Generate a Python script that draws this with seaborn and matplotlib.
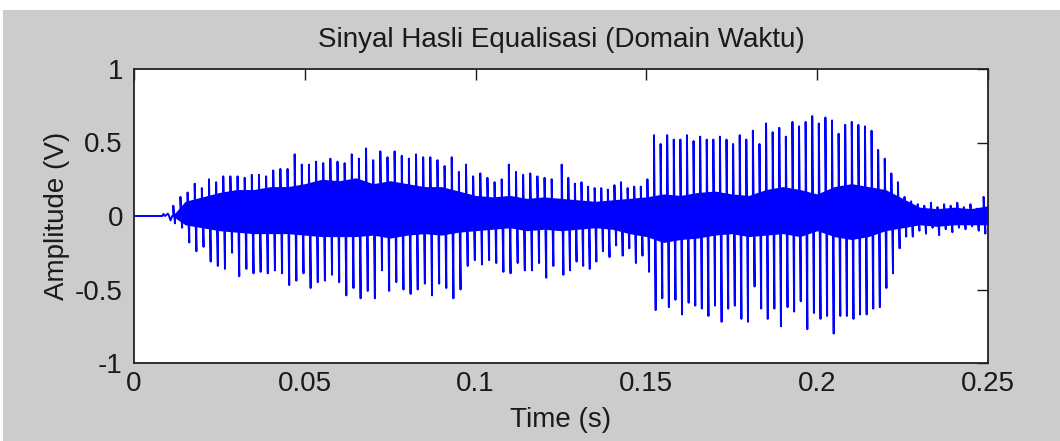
import numpy as np
import pandas as pd
import matplotlib
matplotlib.use("Agg")
import matplotlib.pyplot as plt
from matplotlib.patches import Rectangle
import seaborn as sns

sns.set_style("white")
plt.rcParams['font.family'] = ['Liberation Sans', 'DejaVu Sans']

# flat start with a few tiny wiggles before the voice starts
onset_t = [0.0, 0.0083, 0.0086, 0.0091, 0.0099, 0.0102, 0.0107, 0.0112]
onset_v = [0.0, 0.0, 0.014, 0.0, 0.016, 0.004, -0.03, 0.0]

# two voiced parts, pitch pulses
pulse_start = [0.0115, 0.1252]
pulse_period = [0.00209, 0.00193]

peak_hi_a = [0.07, 0.13, 0.16, 0.22, 0.19, 0.25, 0.23, 0.27, 0.27, 0.27,
             0.26, 0.28, 0.28, 0.27, 0.31, 0.32, 0.32, 0.42, 0.35, 0.35,
             0.37, 0.36, 0.39, 0.37, 0.36,
             0.42, 0.39, 0.46, 0.38, 0.44, 0.40, 0.44, 0.41, 0.39, 0.42,
             0.40, 0.40, 0.38, 0.34, 0.40, 0.30, 0.35, 0.27, 0.29, 0.26,
             0.23, 0.25, 0.35, 0.30, 0.28, 0.29, 0.27, 0.26, 0.25]
peak_lo_a = [-0.05, -0.08, -0.18, -0.24, -0.21, -0.31, -0.34, -0.36, -0.25, -0.41,
             -0.36, -0.39, -0.38, -0.39, -0.37, -0.39, -0.47, -0.44, -0.39, -0.49,
             -0.45, -0.44, -0.40, -0.45, -0.54,
             -0.49, -0.56, -0.51, -0.56, -0.37, -0.51, -0.45, -0.50, -0.53, -0.50,
             -0.46, -0.54, -0.46, -0.49, -0.56, -0.50, -0.34, -0.30, -0.33, -0.30,
             -0.32, -0.38, -0.39, -0.32, -0.37, -0.37, -0.32, -0.42, -0.34]

peak_hi_b = [0.35, 0.26, 0.22, 0.23, 0.20, 0.19, 0.19, 0.18, 0.21, 0.23,
             0.19, 0.20, 0.20, 0.25,
             0.55, 0.49, 0.55, 0.52, 0.52, 0.55, 0.51, 0.54, 0.52, 0.52,
             0.54, 0.52, 0.49, 0.55, 0.52, 0.58, 0.49, 0.63,
             0.57, 0.60, 0.54, 0.64, 0.61, 0.64, 0.68, 0.63, 0.67, 0.65,
             0.56, 0.62, 0.64, 0.62, 0.61, 0.58, 0.45, 0.39, 0.29, 0.23, 0.13,
             0.10, 0.08, 0.07, 0.09, 0.06, 0.08, 0.07, 0.09, 0.06, 0.08, 0.05, 0.13]
peak_lo_b = [-0.40, -0.37, -0.31, -0.34, -0.36, -0.31, -0.24, -0.28, -0.20, -0.27,
             -0.22, -0.32, -0.27, -0.38,
             -0.64, -0.56, -0.62, -0.57, -0.67, -0.59, -0.61, -0.63, -0.68, -0.61,
             -0.72, -0.63, -0.61, -0.70, -0.72, -0.48, -0.63, -0.70,
             -0.63, -0.75, -0.62, -0.65, -0.58, -0.77, -0.66, -0.70, -0.68, -0.80,
             -0.68, -0.68, -0.70, -0.67, -0.67, -0.63, -0.62, -0.49, -0.39, -0.22, -0.14,
             -0.14, -0.10, -0.12, -0.08, -0.13, -0.09, -0.11, -0.08, -0.09, -0.07, -0.10, -0.12]

# dense part between the pulses (upper / lower edge)
band_t = [0.0112, 0.015, 0.020, 0.025, 0.030, 0.035, 0.040, 0.045, 0.050, 0.055,
          0.060, 0.065, 0.070, 0.075, 0.080, 0.085, 0.090, 0.095, 0.100, 0.105,
          0.110, 0.115, 0.120, 0.125, 0.130, 0.135, 0.140, 0.145, 0.150, 0.155,
          0.160, 0.165, 0.170, 0.175, 0.180, 0.185, 0.190, 0.195, 0.200, 0.205,
          0.210, 0.215, 0.220, 0.225, 0.230, 0.235, 0.240, 0.245, 0.250]
band_hi = [0.0, 0.10, 0.13, 0.16, 0.18, 0.18, 0.20, 0.20, 0.22, 0.25,
           0.24, 0.26, 0.22, 0.24, 0.22, 0.20, 0.20, 0.17, 0.14, 0.13,
           0.14, 0.12, 0.13, 0.12, 0.11, 0.10, 0.11, 0.12, 0.13, 0.15,
           0.14, 0.16, 0.17, 0.15, 0.14, 0.18, 0.20, 0.18, 0.15, 0.20,
           0.22, 0.20, 0.18, 0.12, 0.06, 0.05, 0.06, 0.05, 0.07]
band_lo = [0.0, -0.06, -0.08, -0.10, -0.11, -0.12, -0.12, -0.12, -0.13, -0.14,
           -0.14, -0.14, -0.13, -0.15, -0.13, -0.12, -0.13, -0.11, -0.10, -0.09,
           -0.08, -0.10, -0.09, -0.10, -0.09, -0.08, -0.09, -0.12, -0.14, -0.18,
           -0.16, -0.15, -0.13, -0.12, -0.14, -0.13, -0.12, -0.14, -0.10, -0.14,
           -0.16, -0.14, -0.10, -0.08, -0.06, -0.07, -0.06, -0.06, -0.06]

# build the waveform path: each pulse goes up, then down right after
ts = list(onset_t)
vs = list(onset_v)
for t0, per, hi, lo in [(pulse_start[0], pulse_period[0], peak_hi_a, peak_lo_a),
                        (pulse_start[1], pulse_period[1], peak_hi_b, peak_lo_b)]:
    for k in range(len(hi)):
        t = t0 + k * per
        ts += [t, t, t + 0.0005, t + 0.0005]
        vs += [0.0, hi[k], lo[k], 0.0]
df = pd.DataFrame({"t": ts, "v": vs})

fig = plt.figure(figsize=(10.6, 4.41), dpi=100, facecolor="white")
fig.patches.append(Rectangle((3 / 1060, 0), 1, 431 / 441, transform=fig.transFigure,
                             facecolor="#cccccc", edgecolor="none", zorder=-10))
ax = fig.add_axes([134 / 1060, 78 / 441, 854 / 1060, 294 / 441])
ax.set_facecolor("white")

ax.fill_between(band_t, band_lo, band_hi, color="#0000ff", lw=0)
sns.lineplot(data=df, x="t", y="v", sort=False, estimator=None,
             color="#0000ff", lw=1.4, ax=ax)

ax.set_xlim(0, 0.25)
ax.set_ylim(-1, 1)
ax.set_xticks([0, 0.05, 0.1, 0.15, 0.2, 0.25])
ax.set_xticklabels(["0", "0.05", "0.1", "0.15", "0.2", "0.25"])
ax.set_yticks([-1, -0.5, 0, 0.5, 1])
ax.set_yticklabels(["-1", "-0.5", "0", "0.5", "1"])
ax.tick_params(direction="in", length=8, width=1, top=True, right=True,
               labelsize=20, colors="#1a1a1a")
ax.tick_params(axis="x", pad=6)
ax.tick_params(axis="y", pad=8)
for s in ax.spines.values():
    s.set_color("#222222")
    s.set_linewidth(1.3)

ax.set_title("Sinyal Hasli Equalisasi (Domain Waktu)", fontsize=20, pad=16, color="#1a1a1a")
ax.set_xlabel("Time (s)", fontsize=20, color="#1a1a1a")
ax.set_ylabel("Amplitude (V)", fontsize=20, color="#1a1a1a")
ax.xaxis.set_label_coords(0.5, -0.15)
ax.yaxis.set_label_coords(-0.075, 0.5)

fig.savefig("out.png", dpi=100, facecolor=fig.get_facecolor())
